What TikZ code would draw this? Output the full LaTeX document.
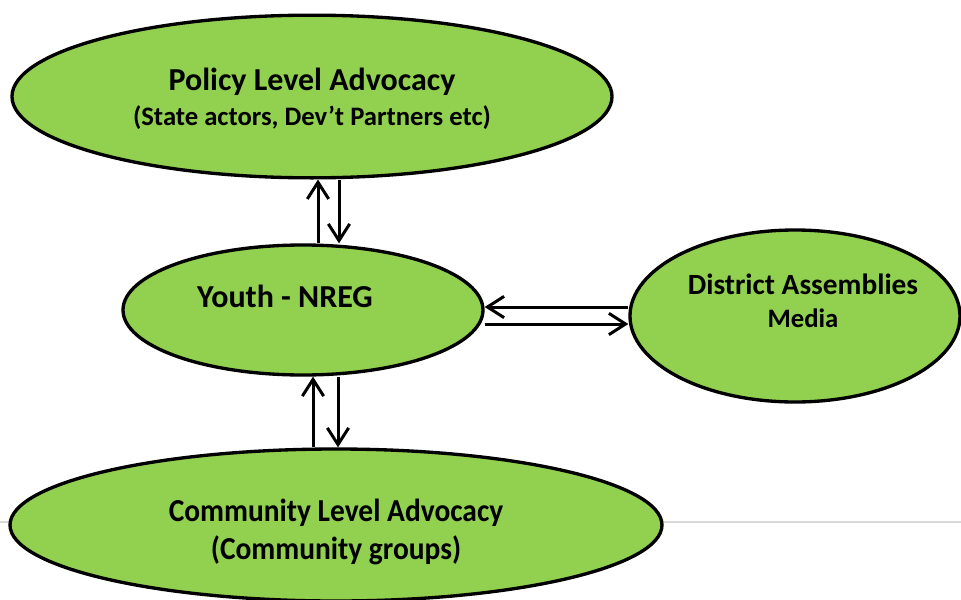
\documentclass[tikz,border=0pt]{standalone}
\usepackage{fontspec}
\setmainfont{Carlito}
\usetikzlibrary{shapes.geometric,arrows.meta}

\definecolor{leaf}{RGB}{146,208,80}
\definecolor{rule}{RGB}{217,217,217}

\tikzset{every picture/.style={line width=0.75pt}}
\tikzset{
  bubble/.style={ellipse, draw=black, line width=2.5pt, fill=leaf, inner sep=0pt},
  headtxt/.style={anchor=center, inner sep=0.75pt, font=\bfseries\fontsize{24}{28}\selectfont},
  subtxt/.style={anchor=center, inner sep=0.75pt, font=\bfseries\fontsize{20}{24}\selectfont},
  flow/.style={-{Straight Barb[length=12.5pt,width=16pt]}, line width=2.25pt},
}

\begin{document}
\begin{tikzpicture}[x=0.75pt,y=0.75pt,yscale=-1,xscale=1]
    \useasboundingbox (0,0) rectangle (961,600);
    \clip (0,0) rectangle (961,600);

    %Straight Lines: slide rule
    \draw [rule, line width=1.5pt] (0,522) -- (961,522) ;

    %Shape: Ellipse
    \node (policy) [bubble, minimum width=450pt, minimum height=122pt] at (312,96.5) {};
    %Shape: Ellipse
    \node (youth) [bubble, minimum width=270pt, minimum height=97.5pt] at (303,310) {};
    %Shape: Ellipse
    \node (district) [bubble, minimum width=247.5pt, minimum height=129pt] at (795,316) {};
    %Shape: Ellipse
    \node (community) [bubble, minimum width=489pt, minimum height=114pt] at (336,525) {};

    % Text Node
    \node (policytitle) [headtxt] at (312,82) {Policy Level Advocacy};
    % Text Node
    \node (policysub) [subtxt] at (312,118) {(State actors, Dev’t Partners etc)};
    % Text Node
    \node (youthtitle) [headtxt] at (285,296) {Youth - NREG};
    % Text Node
    \node (districttitle) [headtxt, font=\bfseries\fontsize{22}{26}\selectfont] at (803,284) {District Assemblies};
    % Text Node
    \node (districtsub) [subtxt] at (803,318) {Media};
    % Text Node
    \node (communitytitle) [headtxt, xscale=0.92] at (336,513) {Community Level Advocacy};
    % Text Node
    \node (communitysub) [headtxt, xscale=0.92] at (336,550) {(Community groups)};

    %Straight Lines: youth <-> policy
    \draw [flow] ([xshift=11.25pt]youth.north) -- ([xshift=11.25pt]youth.north |- policy.south) ;
    \draw [flow] ([xshift=27pt]youth.north |- policy.south) -- ([xshift=27pt]youth.north) ;
    %Straight Lines: youth <-> community
    \draw [flow] ([xshift=7.5pt]youth.south |- community.north) -- ([xshift=7.5pt]youth.south) ;
    \draw [flow] ([xshift=26.25pt]youth.south) -- ([xshift=26.25pt]youth.south |- community.north) ;
    %Straight Lines: youth <-> district
    \draw [flow] ([yshift=-6.75pt]district.west) -- ([yshift=-2.25pt]youth.east) ;
    \draw [flow] ([yshift=10.5pt]youth.east) -- ([yshift=6pt]district.west) ;

\end{tikzpicture}
\end{document}
